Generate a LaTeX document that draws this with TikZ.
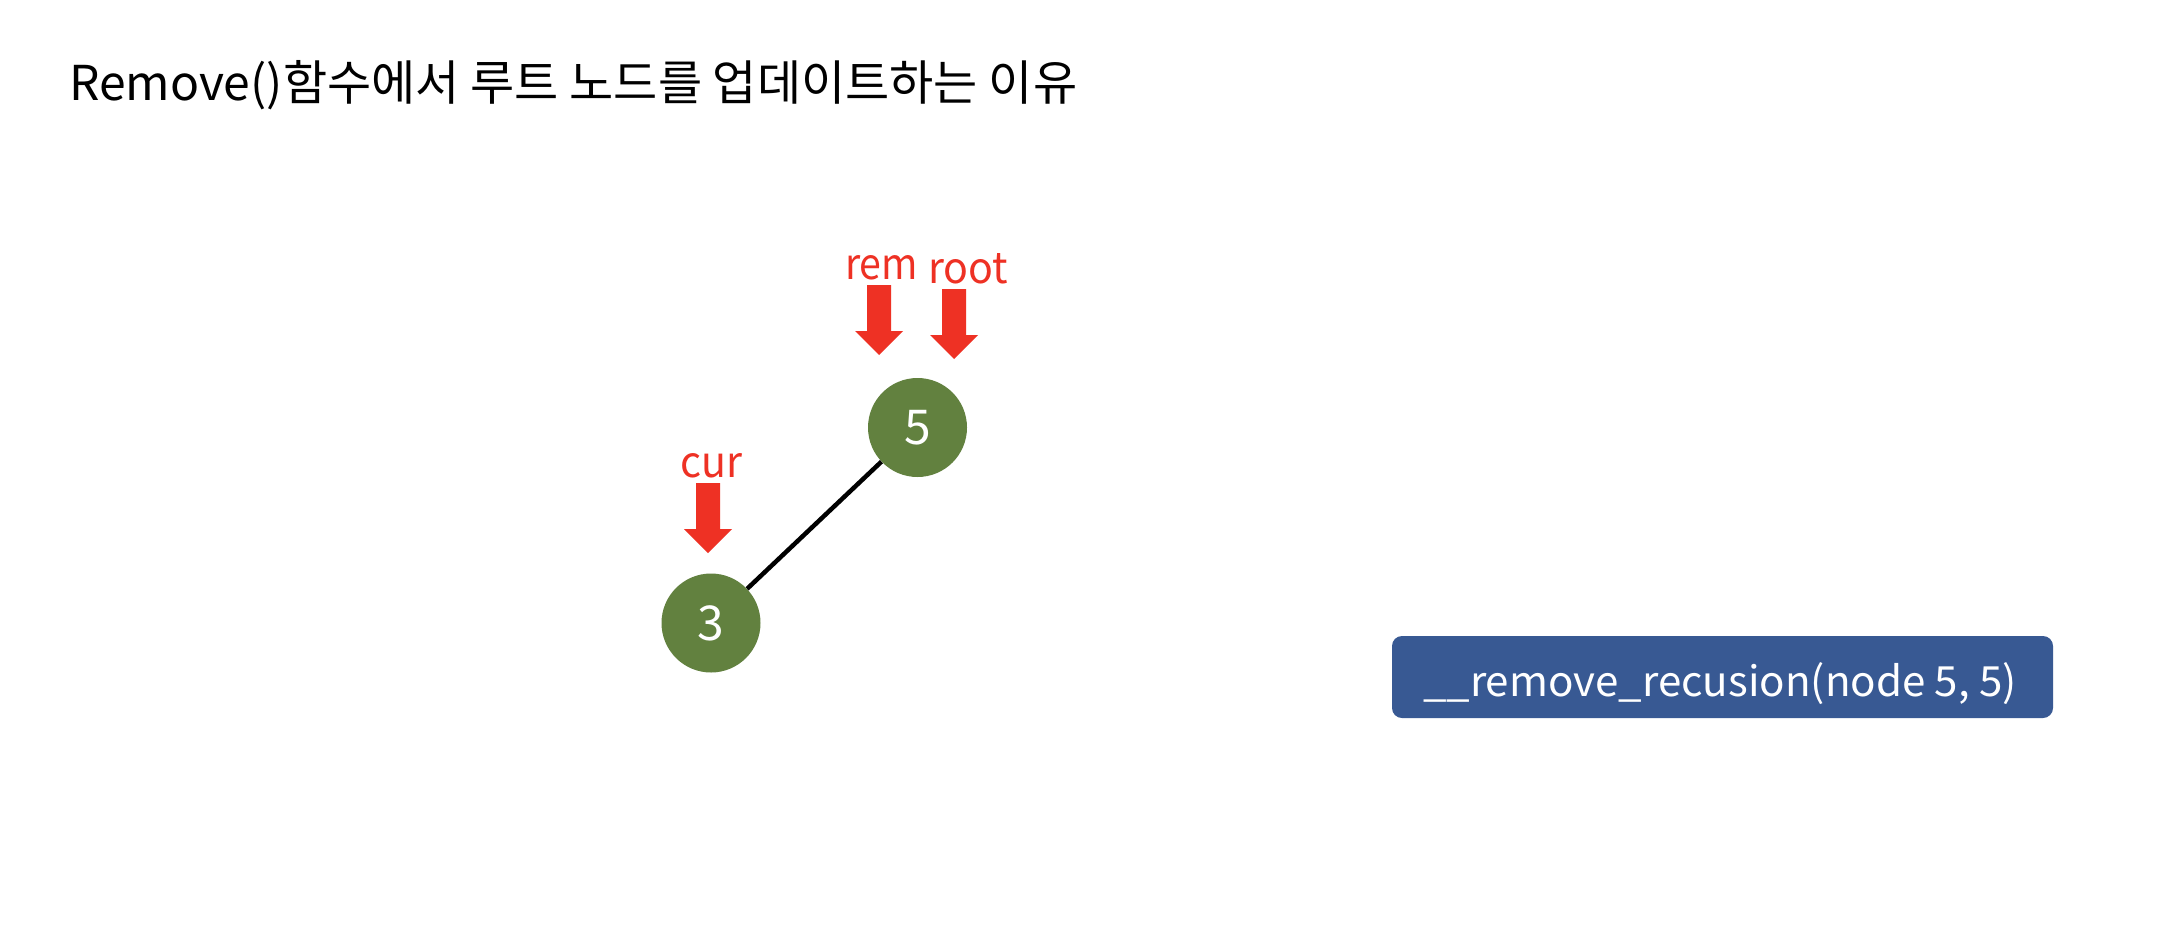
\documentclass[tikz,border=0pt]{standalone}
\usepackage{fontspec}
\usepackage{graphicx}
\setmainfont{Noto Sans CJK KR}
\definecolor{nodegreen}{HTML}{62813F}
\definecolor{ptrred}{HTML}{EE3124}
\definecolor{boxblue}{HTML}{385993}
\tikzset{
  treenode/.style={circle, fill=nodegreen, minimum size=99pt, inner sep=0pt, text=white, font=\fontsize{48}{58}\selectfont},
  ptrlabel/.style={text=ptrred, inner sep=0pt, anchor=base, font=\fontsize{48}{58}\selectfont},
  ptr/.pic={\fill[ptrred] (-12,0) -- (12,0) -- (12,46) -- (24,46) -- (0,70) -- (-24,46) -- (-12,46) -- cycle;},
  callbox/.style={fill=boxblue, rounded corners=10pt},
  calltext/.style={text=white, inner sep=0pt, anchor=base, font=\fontsize{52}{62}\selectfont},
  titletext/.style={inner sep=0pt, anchor=base west, font=\fontsize{48}{58}\selectfont}
}
\begin{document}
\begin{tikzpicture}[x=1pt,y=-1pt]
\useasboundingbox (0,0) rectangle (2184,930);
\fill[white] (0,0) rectangle (2184,930);
\node[titletext] (title) at (69,100) {\resizebox{1008pt}{!}{Remove()함수에서 루트 노드를 업데이트하는 이유}};
\node[treenode] (n5) at (917.5,427.5) {5};
\node[treenode] (n3) at (711,623) {3};
\draw[line width=4.5pt] (n3) -- (n5);
\node[ptrlabel] (lrem) at (881.5,279) {\resizebox{73pt}{24pt}{rem}};
\node[ptrlabel] (lroot) at (968,283) {\resizebox{80pt}{30pt}{root}};
\node[ptrlabel] (lcur) at (711,477) {\resizebox{62pt}{24pt}{cur}};
\pic at (879,285) {ptr};
\pic at (954,289) {ptr};
\pic at (708,483) {ptr};
\fill[callbox] (1392,636) rectangle (2053,718);
\node[calltext] (call) at (1720,696) {\resizebox{594pt}{34pt}{\_\_remove\_recusion(node 5, 5)}};
\end{tikzpicture}
\end{document}
